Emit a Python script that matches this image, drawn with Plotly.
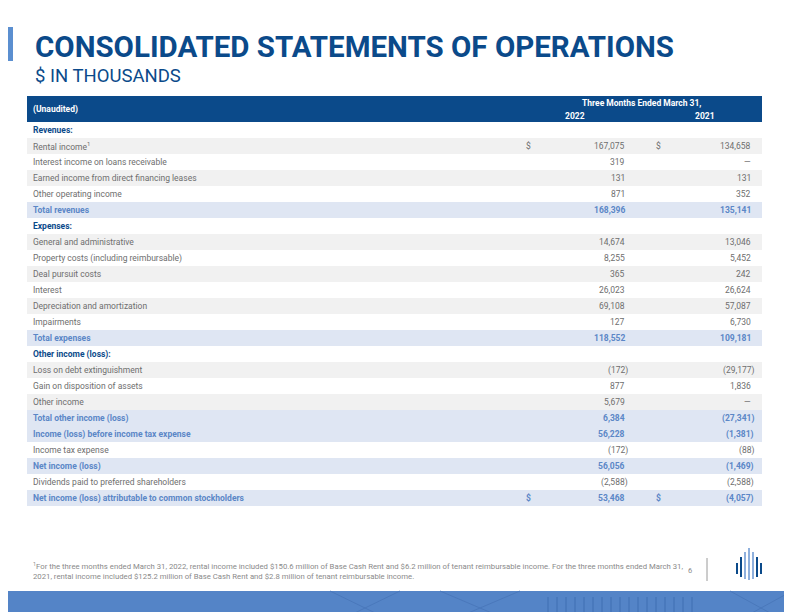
import plotly.graph_objects as go

# table content
labels = [
    "Revenues:", "Rental income<sup>1</sup>", "Interest income on loans receivable",
    "Earned income from direct financing leases", "Other operating income", "Total revenues",
    "Expenses:", "General and administrative", "Property costs (including reimbursable)",
    "Deal pursuit costs", "Interest", "Depreciation and amortization", "Impairments",
    "Total expenses", "Other income (loss):", "Loss on debt extinguishment",
    "Gain on disposition of assets", "Other income", "Total other income (loss)",
    "Income (loss) before income tax expense", "Income tax expense", "Net income (loss)",
    "Dividends paid to preferred shareholders",
    "Net income (loss) attributable to common stockholders",
]
values_2022 = ["", "167,075", "319", "131", "871", "168,396",
               "", "14,674", "8,255", "365", "26,023", "69,108", "127", "118,552",
               "", "(172)", "877", "5,679", "6,384", "56,228", "(172)", "56,056",
               "(2,588)", "53,468"]
values_2021 = ["", "134,658", "\u2014", "131", "352", "135,141",
               "", "13,046", "5,452", "242", "26,624", "57,087", "6,730", "109,181",
               "", "(29,177)", "1,836", "\u2014", "(27,341)", "(1,381)", "(88)", "(1,469)",
               "(2,588)", "(4,057)"]
# row kind: s = section header, n = normal, t = total
kinds = ["s", "n", "n", "n", "n", "t",
         "s", "n", "n", "n", "n", "n", "n", "t",
         "s", "n", "n", "n", "t", "t", "n", "t", "n", "t"]
dollar_rows = [1, 23]

footnote = ("<sup>1</sup>For the three months ended March 31, 2022, rental income included $150.6 million of Base Cash Rent "
            "and $6.2 million of tenant reimbursable income. For the three months ended March 31,<br>"
            "2021, rental income included $125.2 million of Base Cash Rent and $2.8 million of tenant reimbursable income.")

NAVY = "#0b4a8a"
TOTAL_BLUE = "#5b87c7"
GREY_TXT = "#6e6e6e"
FONT = "Roboto"

fig = go.Figure()
shapes = []
ann = []

x0, x1 = 27, 762
top = 122
rh = 16

# header band
shapes.append(dict(type="rect", x0=x0, x1=x1, y0=96, y1=top, fillcolor=NAVY, line_width=0, layer="below"))
ann.append(dict(x=31, y=109.5, text="<b>(Unaudited)</b>", xanchor="left", font=dict(color="white", size=8.5)))
ann.append(dict(x=641, y=102.5, text="<b>Three Months Ended March 31,</b>", font=dict(color="white", size=8.5)))
ann.append(dict(x=575, y=116, text="<b>2022</b>", font=dict(color="white", size=8.5)))
ann.append(dict(x=705, y=116, text="<b>2021</b>", font=dict(color="white", size=8.5)))

for i, (lab, v22, v21, k) in enumerate(zip(labels, values_2022, values_2021, kinds)):
    y0 = top + i * rh
    yc = y0 + rh / 2
    if k == "t":
        fill = "#dfe6f3"
    elif k == "n" and i % 2 == 1:
        fill = "#f1f1f1"
    else:
        fill = "white"
    shapes.append(dict(type="rect", x0=x0, x1=x1, y0=y0, y1=y0 + rh, fillcolor=fill, line_width=0, layer="below"))
    if k == "s":
        col, txt = NAVY, "<b>%s</b>" % lab
    elif k == "t":
        col, txt = TOTAL_BLUE, "<b>%s</b>" % lab
    else:
        col, txt = GREY_TXT, lab
    ann.append(dict(x=31, y=yc, text=txt, xanchor="left", font=dict(color=col, size=8.5)))
    for xv, v in ((627, v22), (753, v21)):
        if v:
            vt = "<b>%s</b>" % v if k == "t" else v
            xa = xv + 3 if v.endswith(")") else xv
            ann.append(dict(x=xa, y=yc, text=vt, xanchor="right", font=dict(color=col, size=8.5)))
    if i in dollar_rows:
        for xd in (528, 658):
            ann.append(dict(x=xd, y=yc, text="<b>$</b>" if k == "t" else "$", font=dict(color=col, size=8.5)))

# left accent, title
shapes.append(dict(type="rect", x0=0, x1=13, y0=27, y1=61, fillcolor="#5b8fd0", line_width=0))
ann.append(dict(x=33, y=47, text="<b>CONSOLIDATED STATEMENTS OF OPERATIONS</b>", xanchor="left",
                font=dict(color=NAVY, size=29.5)))
ann.append(dict(x=33, y=76, text="$ IN THOUSANDS", xanchor="left", font=dict(color=NAVY, size=18.5)))

# footnote and page number
ann.append(dict(x=31, y=571, text=footnote, xanchor="left", align="left",
                font=dict(color="#8a8a8a", size=7.75)))
ann.append(dict(x=690, y=570, text="6", font=dict(color="#8a8a8a", size=7.5)))
shapes.append(dict(type="line", x0=707, x1=707, y0=558, y1=581, line=dict(color="#9a9a9a", width=1)))

# logo bars
logo_x = [737, 741, 745, 749, 753, 757, 761]
logo_top = [563, 557, 552, 548, 552, 557, 563]
logo_bot = [574, 577, 579, 580, 579, 577, 574]
logo_col = ["#0b4a8a", "#0b4a8a", "#8fb0dd", "#8fb0dd", "#8fb0dd", "#0b4a8a", "#0b4a8a"]
for lx, lt, lb, lc in zip(logo_x, logo_top, logo_bot, logo_col):
    shapes.append(dict(type="line", x0=lx, x1=lx, y0=lt, y1=lb, line=dict(color=lc, width=2)))

# bottom band
shapes.append(dict(type="rect", x0=0, x1=800, y0=591, y1=625, fillcolor="#5484c7", line_width=0))
for bx in range(548, 700, 9):
    shapes.append(dict(type="line", x0=bx, x1=bx, y0=597, y1=625, line=dict(color="#3f6fb2", width=1)))
for lx0, lx1 in ((330, 400), (400, 330), (440, 520), (520, 440), (730, 792), (792, 730)):
    shapes.append(dict(type="line", x0=lx0, x1=lx1, y0=591, y1=625, line=dict(color="#4a78bb", width=1)))

for a in ann:
    a.setdefault("showarrow", False)
    a.setdefault("xref", "x")
    a.setdefault("yref", "y")
    a["font"].setdefault("family", FONT)
for s in shapes:
    s.setdefault("xref", "x")
    s.setdefault("yref", "y")

# the page body adds an 8px margin, so the axes are shifted to keep page pixels = data units
fig.update_layout(
    width=792, height=612,
    margin=dict(l=0, r=0, t=0, b=0),
    paper_bgcolor="white", plot_bgcolor="white",
    xaxis=dict(range=[8, 800], visible=False, fixedrange=True),
    yaxis=dict(range=[620, 8], visible=False, fixedrange=True),
    shapes=shapes, annotations=ann,
    showlegend=False,
)

fig.write_html("out.html", config=dict(displayModeBar=False))
